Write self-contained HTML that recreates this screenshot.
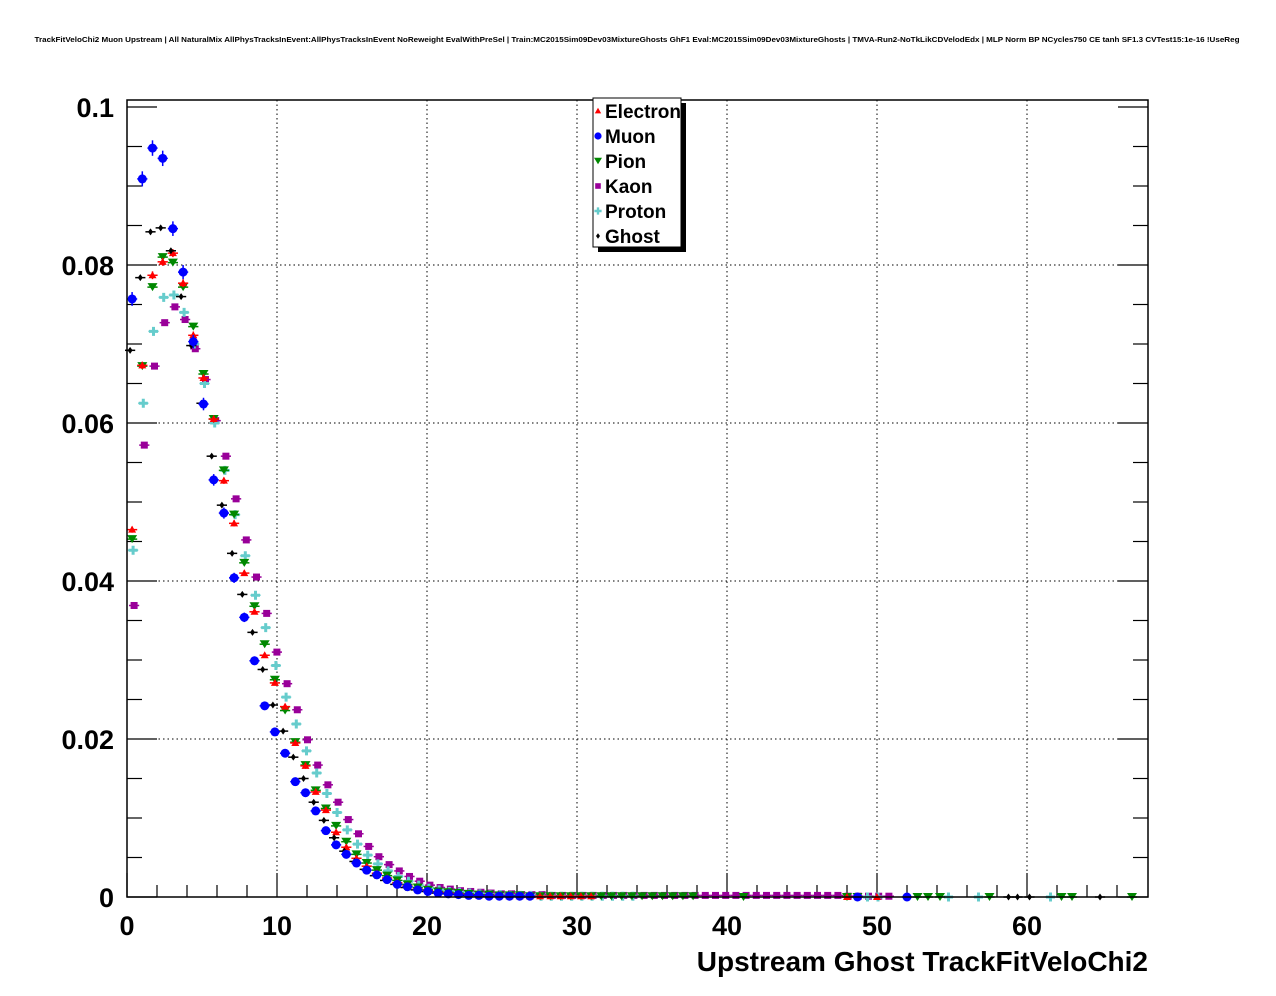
<!DOCTYPE html>
<html><head><meta charset="utf-8"><style>
body{margin:0;background:#fff;}
svg{display:block;font-family:"Liberation Sans",sans-serif;}
</style></head><body>
<svg id="c" width="1276" height="996" viewBox="0 0 1276 996" xmlns="http://www.w3.org/2000/svg">
<rect width="1276" height="996" fill="#fff"/>
<text x="637" y="42" text-anchor="middle" font-size="7.6" font-weight="bold" textLength="1205" lengthAdjust="spacingAndGlyphs">TrackFitVeloChi2 Muon Upstream | All NaturalMix AllPhysTracksInEvent:AllPhysTracksInEvent NoReweight EvalWithPreSel | Train:MC2015Sim09Dev03MixtureGhosts GhF1 Eval:MC2015Sim09Dev03MixtureGhosts | TMVA-Run2-NoTkLikCDVelodEdx | MLP Norm BP NCycles750 CE tanh SF1.3 CVTest15:1e-16 !UseReg</text>
<g id="grid"></g>
<g id="axes"></g>
<g id="marks"></g>
<rect x="127" y="100" width="1021" height="797" fill="none" stroke="#000" stroke-width="1.5"/>
<text x="1148" y="971" text-anchor="end" font-size="28" font-weight="bold">Upstream Ghost TrackFitVeloChi2</text>
<g>
<rect x="598" y="103" width="88" height="149" fill="#000"/>
<rect x="593" y="98" width="88" height="149" fill="#fff" stroke="#000" stroke-width="1"/>
<g id="leg"></g>
</g>
</svg>
<script>
const binWidth = 0.68;
const species = ["Electron","Muon","Pion","Kaon","Proton","Ghost"];
const electron = [0.0465,0.0673,0.0787,0.0804,0.0815,0.0777,0.0711,0.0657,0.0605,0.0527,0.0473,0.0410,0.0361,0.0306,0.0271,0.0241,0.0195,0.0166,0.0133,0.0110,0.0082,0.0063,0.0049,0.0039,0.0030,0.0024,0.0018,0.0014,0.0010,0.0008,0.0006,0.0005,0.0004,0.0003,0.0002,0.0002,0.0002,0.0001,0.0001,0.0001,0.0001,0.0001,0.0001,0.0001,0.0001,0.0001];
const muon = [0.0757,0.0909,0.0948,0.0935,0.0846,0.0791,0.0703,0.0624,0.0528,0.0486,0.0404,0.0354,0.0299,0.0242,0.0209,0.0182,0.0146,0.0132,0.0109,0.0084,0.0066,0.0054,0.0043,0.0034,0.0028,0.0022,0.0016,0.0013,0.0009,0.0007,0.0005,0.0004,0.0003,0.0002,0.0002,0.0001,0.0001,0.0001,0.0001,0.0001];
const pion = [0.0453,0.0672,0.0772,0.0810,0.0803,0.0772,0.0722,0.0662,0.0605,0.0540,0.0484,0.0423,0.0368,0.0320,0.0275,0.0236,0.0196,0.0167,0.0135,0.0112,0.0090,0.0070,0.0054,0.0043,0.0034,0.0027,0.0021,0.0016,0.0012,0.0009,0.0007,0.0006,0.0005,0.0004,0.0003,0.0003,0.0002,0.0002,0.0002,0.0001,0.0001,0.0001,0.0001,0.0001,0.0001,0.0001,0.0001,0.0001,0.0001,0.0001,0.0001,0.0001,0.0001,0.0001,0.0001,0.0001];
const kaon = [0.0369,0.0572,0.0672,0.0727,0.0747,0.0731,0.0694,0.0655,0.0603,0.0558,0.0504,0.0452,0.0405,0.0359,0.0310,0.0270,0.0237,0.0199,0.0167,0.0142,0.0120,0.0098,0.0080,0.0064,0.0051,0.0041,0.0033,0.0026,0.0020,0.0015,0.0012,0.0010,0.0008,0.0007,0.0006,0.0005,0.0004,0.0004,0.0003,0.0003,0.0003,0.0002,0.0002,0.0002,0.0002,0.0002,0.0002,0.0002,0.0002,0.0002,0.0002,0.0002,0.0002,0.0002,0.0002,0.0002,0.0002,0.0002,0.0002,0.0002,0.0002,0.0002,0.0002,0.0002,0.0002,0.0002,0.0002,0.0002,0.0002,0.0002,0.0001,0.0001,0.0001,0.0001,0.0001];
const proton = [0.0439,0.0625,0.0716,0.0759,0.0762,0.0740,0.0700,0.0650,0.0600,0.0540,0.0484,0.0432,0.0382,0.0341,0.0293,0.0253,0.0219,0.0185,0.0157,0.0131,0.0107,0.0085,0.0067,0.0053,0.0042,0.0033,0.0026,0.0020,0.0015,0.0011,0.0009,0.0007,0.0006,0.0005,0.0004,0.0003,0.0003,0.0002,0.0002,0.0002,0.0001,0.0001,0.0001,0.0001,0.0001,0.0001,0.0001,0.0001,0.0001,0.0001];
const ghost = [0.0692,0.0784,0.0842,0.0847,0.0818,0.0760,0.0698,0.0625,0.0558,0.0496,0.0435,0.0383,0.0335,0.0288,0.0243,0.0210,0.0177,0.0150,0.0120,0.0097,0.0075,0.0058,0.0045,0.0035,0.0027,0.0021,0.0016,0.0012,0.0009,0.0007,0.0005,0.0004,0.0003,0.0002,0.0002,0.0001,0.0001,0.0001,0.0001];
const electronTailX = [48.0, 50.0];
const muonTailX = [48.7, 52.0];
const pionTailX = [41.1, 48.0, 48.7, 52.7, 53.4, 54.2, 57.5, 62.3, 63.0, 67.0];
const kaonTailX = [];
const protonTailX = [49.3, 50.0, 54.7, 56.7, 61.5];
const ghostTailX = [58.9, 59.5, 60.3, 65.0];
const yTicks = [0, 0.02, 0.04, 0.06, 0.08, 0.1];
const yTickLabels = ["0","0.02","0.04","0.06","0.08","0.1"];
const xTicks = [0,10,20,30,40,50,60];
const xTickLabels = ["0","10","20","30","40","50","60"];

const NS="http://www.w3.org/2000/svg";
const X0=127, X1=1148, Y0=897, Yscale=7900, Xscale=15;
const xs = v => X0 + v*Xscale;
const ys = v => Y0 - v*Yscale;
function mk(tag, attrs, parent){const e=document.createElementNS(NS,tag);for(const k in attrs)e.setAttribute(k,attrs[k]);parent.appendChild(e);return e;}
const grid=document.getElementById('grid'), axes=document.getElementById('axes'), marks=document.getElementById('marks'), leg=document.getElementById('leg');

yTicks.forEach((t,i)=>{
  const y=ys(t);
  if(t>0 && t<0.1){const g=mk('line',{x1:X0,x2:X1,y1:y,y2:y,stroke:'#000','stroke-dasharray':'1.5 3','stroke-width':1},grid);
  
  }
  const l=mk('line',{x1:X0,x2:X0+30,y1:y,y2:y,stroke:'#000','stroke-width':1.2},axes);
  
  
  const r=mk('line',{x1:X1,x2:X1-30,y1:y,y2:y,stroke:'#000','stroke-width':1.2},axes);
  
  
  const tx=mk('text',{x:X0-13,y:y+10,'text-anchor':'end','font-size':27,'font-weight':'bold'},axes);
  tx.textContent=yTickLabels[i];
  
  
});
for(let k=1;k<20;k++){ if(k%4===0) continue; const y=ys(k*0.005);
  const l=mk('line',{x1:X0,x2:X0+15,y1:y,y2:y,stroke:'#000','stroke-width':1.2},axes);
  
  
  const r=mk('line',{x1:X1,x2:X1-15,y1:y,y2:y,stroke:'#000','stroke-width':1.2},axes);
  
  
}
xTicks.forEach((t,i)=>{
  const x=xs(t);
  if(t>0){const g=mk('line',{x1:x,x2:x,y1:100,y2:Y0,stroke:'#000','stroke-dasharray':'1.5 3','stroke-width':1},grid);
  
  }
  const l=mk('line',{x1:x,x2:x,y1:Y0,y2:Y0-24,stroke:'#000','stroke-width':1.2},axes);
  
  
  const tx=mk('text',{x:x,y:935,'text-anchor':'middle','font-size':27,'font-weight':'bold'},axes);
  tx.textContent=xTickLabels[i];
  
  
});
for(let v=2;v<68;v+=2){ if(v%10===0) continue;
  const l=mk('line',{x1:xs(v),x2:xs(v),y1:Y0,y2:Y0-12,stroke:'#000','stroke-width':1.2},axes);
  
  
}

const cols={Electron:'#ff0000',Muon:'#0000ff',Pion:'#008800',Kaon:'#990099',Proton:'#66cccc',Ghost:'#000000'};
const offs={Electron:0,Muon:0,Pion:0,Kaon:2,Proton:1,Ghost:-2};
const errk={Electron:0.0005,Muon:0.0009,Pion:0.0003,Kaon:0.0002,Proton:0.0002,Ghost:0.0003};
function marker(name,cx,cy,parent,sc){
  const c=cols[name]; sc=sc||1; let e;
  if(name==='Electron') e=mk('polygon',{points:`${cx},${cy-4*sc} ${cx-4*sc},${cy+3*sc} ${cx+4*sc},${cy+3*sc}`,fill:c},parent);
  else if(name==='Muon') e=mk('circle',{cx:cx,cy:cy,r:4.5*sc,fill:c},parent);
  else if(name==='Pion') e=mk('polygon',{points:`${cx-5*sc},${cy-4*sc} ${cx+5*sc},${cy-4*sc} ${cx},${cy+4*sc}`,fill:c},parent);
  else if(name==='Kaon') e=mk('rect',{x:cx-3.5*sc,y:cy-3.5*sc,width:7*sc,height:7*sc,fill:c},parent);
  else if(name==='Proton') e=mk('path',{d:`M${cx-4.5*sc} ${cy-1.5*sc}h${3*sc}v${-3*sc}h${3*sc}v${3*sc}h${3*sc}v${3*sc}h${-3*sc}v${3*sc}h${-3*sc}v${-3*sc}h${-3*sc}z`,fill:c},parent);
  else e=mk('polygon',{points:`${cx},${cy-3.5*sc} ${cx+2.5*sc},${cy} ${cx},${cy+3.5*sc} ${cx-2.5*sc},${cy}`,fill:c},parent);
  return e;
}
const series={Electron:[electron,electronTailX],Muon:[muon,muonTailX],Pion:[pion,pionTailX],Kaon:[kaon,kaonTailX],Proton:[proton,protonTailX],Ghost:[ghost,ghostTailX]};
["Kaon","Proton","Pion","Electron","Ghost","Muon"].forEach(name=>{
  const [vals,tail]=series[name]; const c=cols[name];
  const g=mk('g',{},marks);
  
  
  const pts=vals.map((v,i)=>[(i+0.5)*binWidth,v]).concat(tail.map(x=>[x,0]));
  pts.forEach(([xv,v])=>{
    const cx=xs(xv)+offs[name], cy=ys(v);
    const hw=binWidth*Xscale/2;
    const h=mk('line',{x1:cx-hw,x2:cx+hw,y1:cy,y2:cy,stroke:c,'stroke-width':1.5},g);
    
    
    const e=errk[name]*Math.sqrt(v/0.08)*Yscale;
    if(e>1){const vl=mk('line',{x1:cx,x2:cx,y1:cy-e,y2:cy+e,stroke:c,'stroke-width':1.5},g);
    
    }
    const m=marker(name,cx,cy,g);
    
    
  });
});
species.forEach((name,i)=>{
  const y=111+25*i;
  const m=marker(name,598,y,leg,0.8);
  
  
  const t=mk('text',{x:605,y:y+7,'font-size':19,'font-weight':'bold'},leg);
  t.textContent=name;
  
  
});
</script>
</body></html>
